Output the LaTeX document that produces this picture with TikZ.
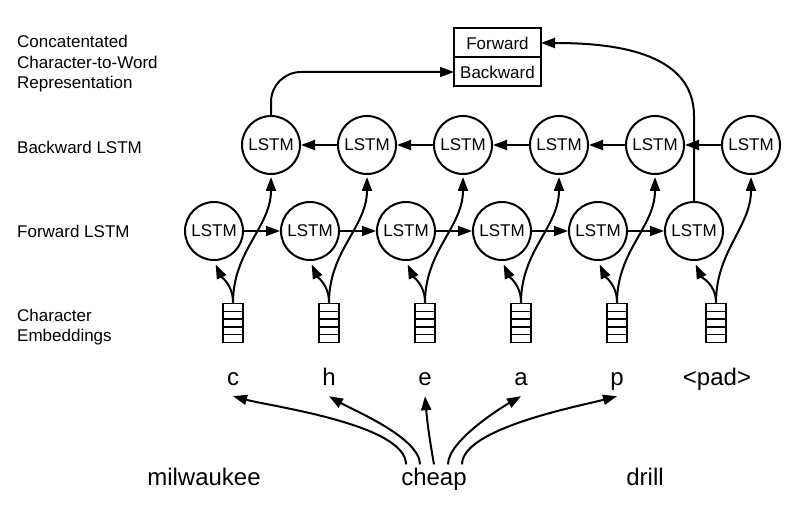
\documentclass[tikz,border=0pt]{standalone}
\usepackage{fontspec}
\setmainfont{Liberation Sans}
\usepackage{tikz}
\usetikzlibrary{positioning,arrows.meta,calc}
\tikzstyle{lstm} = [circle, minimum size=58pt, inner sep=0pt, draw=black, line width=2pt, font=\fontsize{17}{20}\selectfont]
\tikzstyle{emb} = [rectangle, minimum width=20pt, minimum height=39pt, inner sep=0pt, draw=black, line width=1.8pt,
  path picture={\foreach \k in {1,...,4} \draw[line width=1.5pt] ($(path picture bounding box.north west)!\k/5!(path picture bounding box.south west)$) -- ($(path picture bounding box.north east)!\k/5!(path picture bounding box.south east)$);}]
\tikzstyle{cell} = [rectangle, minimum width=87pt, minimum height=29pt, inner sep=0pt, outer sep=0pt, text centered, draw=black, line width=2pt, font=\fontsize{17}{20}\selectfont]
\tikzstyle{rowlabel} = [anchor=west, align=left, inner sep=0pt, font=\fontsize{17}{20.5}\selectfont]
\tikzstyle{char} = [anchor=base, inner sep=2pt, text height=17pt, text depth=9pt, font=\fontsize{24}{28}\selectfont]
\tikzstyle{word} = [anchor=base, inner sep=3pt, font=\fontsize{24}{28}\selectfont]
\tikzstyle{arrow} = [line width=2pt, -{Triangle[length=14pt,width=10pt]}]

\begin{document}
\begin{tikzpicture}[x=1pt, y=-1pt, node distance=96pt]
      \useasboundingbox (0,0) rectangle (804,516);
      % row labels
      \node (lblconcat) [rowlabel] at (17,64) {Concatentated\\Character-to-Word\\Representation};
      \node (lblbwd) [rowlabel] at (17,147) {Backward LSTM};
      \node (lblfwd) [rowlabel] at (17,231) {Forward LSTM};
      \node (lblemb) [rowlabel] at (17,327) {Character\\Embeddings};

      % concatenated output
      \node (fwdcell) [cell] at (497.5,43) {Forward};
      \node (bwdcell) [cell, below=0pt of fwdcell] {Backward};

      % forward LSTM
      \node (f1) [lstm] at (214,231) {LSTM};
      \node (f2) [lstm, right of=f1] {LSTM};
      \node (f3) [lstm, right of=f2] {LSTM};
      \node (f4) [lstm, right of=f3] {LSTM};
      \node (f5) [lstm, right of=f4] {LSTM};
      \node (f6) [lstm, right of=f5] {LSTM};

      % backward LSTM
      \node (b1) [lstm] at (271,145) {LSTM};
      \node (b2) [lstm, right of=b1] {LSTM};
      \node (b3) [lstm, right of=b2] {LSTM};
      \node (b4) [lstm, right of=b3] {LSTM};
      \node (b5) [lstm, right of=b4] {LSTM};
      \node (b6) [lstm, right of=b5] {LSTM};

      % character embeddings
      \node (e1) [emb] at (233,323) {};
      \node (e2) [emb, right of=e1] {};
      \node (e3) [emb, right of=e2] {};
      \node (e4) [emb, right of=e3] {};
      \node (e5) [emb, right of=e4] {};
      \node (e6) [emb, right of=e5, xshift=3pt] {};

      % characters
      \node (chc) [char] at (233,385) {c};
      \node (chh) [char] at (329,385) {h};
      \node (che) [char] at (425,385) {e};
      \node (cha) [char] at (521,385) {a};
      \node (chp) [char] at (617,385) {p};
      \node (chpad) [char] at (717,385) {<pad>};

      % words
      \node (milwaukee) [word] at (204,485) {milwaukee};
      \node (cheap) [word] at (434,485) {cheap};
      \node (drill) [word] at (645,485) {drill};

      \draw [arrow] (f1) -- (f2);
      \draw [arrow] (f2) -- (f3);
      \draw [arrow] (f3) -- (f4);
      \draw [arrow] (f4) -- (f5);
      \draw [arrow] (f5) -- (f6);

      \draw [arrow] (b6) -- (b5);
      \draw [arrow] (b5) -- (b4);
      \draw [arrow] (b4) -- (b3);
      \draw [arrow] (b3) -- (b2);
      \draw [arrow] (b2) -- (b1);

      \draw [arrow, shorten >=4pt] (e1.north) to[out=90,in=-65] (f1.south);
      \draw [arrow, shorten >=4pt] (e2.north) to[out=90,in=-65] (f2.south);
      \draw [arrow, shorten >=4pt] (e3.north) to[out=90,in=-65] (f3.south);
      \draw [arrow, shorten >=4pt] (e4.north) to[out=90,in=-65] (f4.south);
      \draw [arrow, shorten >=4pt] (e5.north) to[out=90,in=-65] (f5.south);
      \draw [arrow, shorten >=4pt] (e6.north) to[out=90,in=-65] (f6.south);

      \draw [arrow, shorten >=2pt] (e1.north) to[out=90,in=-90] (b1.south);
      \draw [arrow, shorten >=2pt] (e2.north) to[out=90,in=-90] (b2.south);
      \draw [arrow, shorten >=2pt] (e3.north) to[out=90,in=-90] (b3.south);
      \draw [arrow, shorten >=2pt] (e4.north) to[out=90,in=-90] (b4.south);
      \draw [arrow, shorten >=2pt] (e5.north) to[out=90,in=-90] (b5.south);
      \draw [arrow, shorten >=2pt] (e6.north) to[out=90,in=-90] (b6.south);

      \draw [arrow, rounded corners=30pt] (b1.north) |- (bwdcell.west);
      \draw [arrow] (f6.north) -- ++(0,-85) to[out=90,in=0] (fwdcell.east);

      \draw [arrow] ([xshift=-28pt]cheap.north) to[out=90,in=-15,looseness=0.55] (chc.south);
      \draw [arrow] ([xshift=-14pt]cheap.north) to[out=90,in=-30,looseness=0.6] (chh.south);
      \draw [arrow] (cheap.north) to[out=100,in=-85] (che.south);
      \draw [arrow] ([xshift=14pt]cheap.north) to[out=90,in=-150,looseness=0.6] (cha.south);
      \draw [arrow] ([xshift=28pt]cheap.north) to[out=90,in=-165,looseness=0.55] (chp.south);

    \end{tikzpicture}
\end{document}
